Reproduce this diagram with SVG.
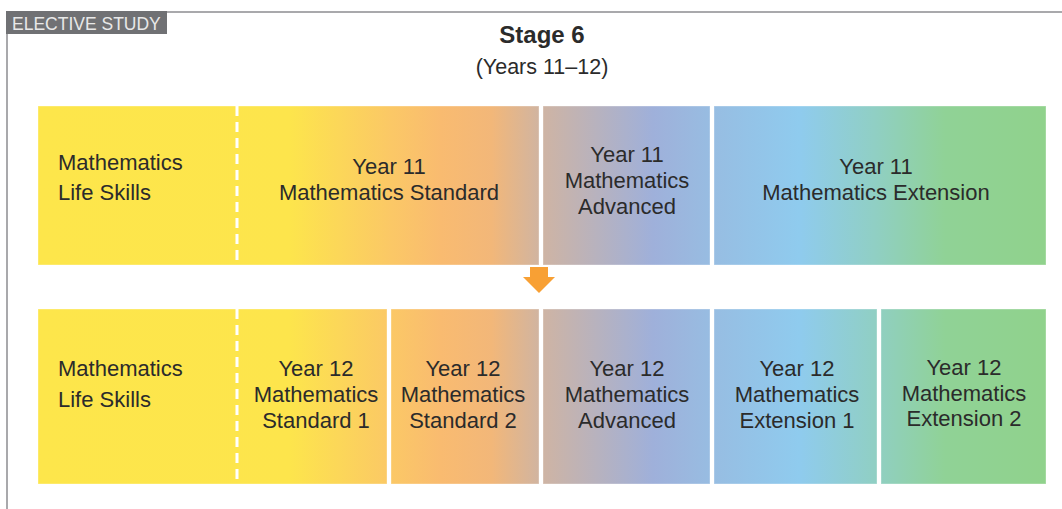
<svg xmlns="http://www.w3.org/2000/svg" width="1062" height="509" viewBox="0 0 1062 509">
<defs>
<linearGradient id="g" gradientUnits="userSpaceOnUse" x1="38" y1="0" x2="1046" y2="0">
<stop offset="0" stop-color="#fde64b"/>
<stop offset="0.25" stop-color="#fde54c"/>
<stop offset="0.35" stop-color="#fbc866"/>
<stop offset="0.40" stop-color="#f9bb70"/>
<stop offset="0.45" stop-color="#f2b779"/>
<stop offset="0.50" stop-color="#cfb4a3"/>
<stop offset="0.61" stop-color="#9fb0da"/>
<stop offset="0.67" stop-color="#97bde2"/>
<stop offset="0.755" stop-color="#8fcbee"/>
<stop offset="0.83" stop-color="#90cfc4"/>
<stop offset="0.90" stop-color="#90d296"/>
<stop offset="1" stop-color="#90d28c"/>
</linearGradient>
</defs>
<style>
.box{fill:url(#g);stroke:#ffffff;stroke-opacity:0.35;stroke-width:1}
.t{font-family:"Liberation Sans",Arial,sans-serif;font-size:22px;fill:#2b2b2b}
.c{text-anchor:middle}
.dash{stroke:#ffffff;stroke-width:3;stroke-dasharray:10 6}
.frame{stroke:#a9a9ac;stroke-width:2;fill:none}
</style>
<rect width="1062" height="509" fill="#ffffff"/>
<g id="frame">
<path class="frame" d="M7 509 V12 H1062"/>
<rect x="6" y="11" width="161" height="23" fill="#707174"/>
<text x="12" y="30" font-family="'Liberation Sans',Arial,sans-serif" font-size="17.5" fill="#e8e8e8">ELECTIVE STUDY</text>
</g>
<g id="title">
<text x="542" y="43" text-anchor="middle" font-family="'Liberation Sans',Arial,sans-serif" font-size="24" font-weight="bold" fill="#2b2b2b">Stage 6</text>
<text x="542" y="74" text-anchor="middle" font-family="'Liberation Sans',Arial,sans-serif" font-size="21.5" fill="#2b2b2b">(Years 11–12)</text>
</g>
<g id="y11-row">
<g id="y11-lifeskills-standard">
<rect class="box" x="38" y="106" width="501" height="159"/>
<line class="dash" x1="237" y1="106" x2="237" y2="265"/>
<text class="t" x="58" y="170">Mathematics</text>
<text class="t" x="58" y="200">Life Skills</text>
<text class="t c" x="389" y="174">Year 11</text>
<text class="t c" x="389" y="200">Mathematics Standard</text>
</g>
<g id="y11-advanced">
<rect class="box" x="543" y="106" width="167" height="159"/>
<text class="t c" x="627" y="162">Year 11</text>
<text class="t c" x="627" y="188">Mathematics</text>
<text class="t c" x="627" y="214">Advanced</text>
</g>
<g id="y11-extension">
<rect class="box" x="714" y="106" width="332" height="159"/>
<text class="t c" x="876" y="174">Year 11</text>
<text class="t c" x="876" y="200">Mathematics Extension</text>
</g>
</g>
<g id="connectors">
<path d="M530 267 H548 V277 H555 L539 293 L523 277 H530 Z" fill="#f8a034"/>
</g>
<g id="y12-row">
<g id="y12-lifeskills-standard1">
<rect class="box" x="38" y="309" width="349" height="175"/>
<line class="dash" x1="237" y1="309" x2="237" y2="484"/>
<text class="t" x="58" y="376">Mathematics</text>
<text class="t" x="58" y="407">Life Skills</text>
<text class="t c" x="316" y="376">Year 12</text>
<text class="t c" x="316" y="402">Mathematics</text>
<text class="t c" x="316" y="428">Standard 1</text>
</g>
<g id="y12-standard2">
<rect class="box" x="391" y="309" width="148" height="175"/>
<text class="t c" x="463" y="376">Year 12</text>
<text class="t c" x="463" y="402">Mathematics</text>
<text class="t c" x="463" y="428">Standard 2</text>
</g>
<g id="y12-advanced">
<rect class="box" x="543" y="309" width="167" height="175"/>
<text class="t c" x="627" y="376">Year 12</text>
<text class="t c" x="627" y="402">Mathematics</text>
<text class="t c" x="627" y="428">Advanced</text>
</g>
<g id="y12-extension1">
<rect class="box" x="714" y="309" width="163" height="175"/>
<text class="t c" x="797" y="376">Year 12</text>
<text class="t c" x="797" y="402">Mathematics</text>
<text class="t c" x="797" y="428">Extension 1</text>
</g>
<g id="y12-extension2">
<rect class="box" x="881" y="309" width="165" height="175"/>
<text class="t c" x="964" y="375">Year 12</text>
<text class="t c" x="964" y="401">Mathematics</text>
<text class="t c" x="964" y="426">Extension 2</text>
</g>
</g>
</svg>
